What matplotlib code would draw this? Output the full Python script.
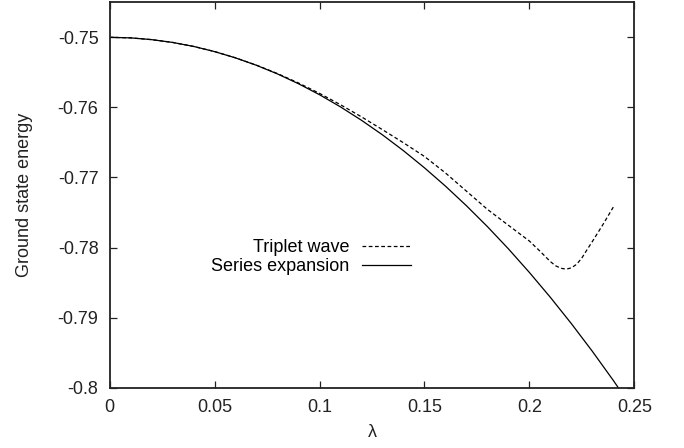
import numpy as np
import matplotlib
matplotlib.use("Agg")
import matplotlib.pyplot as plt

plt.rcParams['font.family'] = ['Liberation Sans', 'DejaVu Sans']
plt.rcParams['axes.unicode_minus'] = False

# values
lam_series = [0.00, 0.01, 0.02, 0.03, 0.04, 0.05, 0.06, 0.07, 0.08, 0.09,
              0.10, 0.11, 0.12, 0.13, 0.14, 0.15, 0.16, 0.17, 0.18, 0.19,
              0.20, 0.21, 0.22, 0.23, 0.24, 0.25]
e_series = [-0.75000, -0.75008, -0.75033, -0.75073, -0.75130, -0.75204,
            -0.75294, -0.75400, -0.75523, -0.75663, -0.75819, -0.75993,
            -0.76184, -0.76392, -0.76618, -0.76862, -0.77123, -0.77403,
            -0.77701, -0.78018, -0.78355, -0.78710, -0.79085, -0.79480,
            -0.79896, -0.80332]

lam_triplet = [0.00, 0.01, 0.02, 0.03, 0.04, 0.05, 0.06, 0.07, 0.08, 0.09,
               0.10, 0.11, 0.12, 0.13, 0.14, 0.15, 0.16, 0.17, 0.18, 0.19,
               0.20, 0.205, 0.21, 0.2125, 0.215, 0.2175, 0.22, 0.2225, 0.225,
               0.2275, 0.23, 0.235, 0.24]
e_triplet = [-0.75000, -0.75008, -0.75033, -0.75073, -0.75130, -0.75203,
             -0.75293, -0.75398, -0.75518, -0.75652, -0.75800, -0.75962,
             -0.76135, -0.76318, -0.76505, -0.76700, -0.76935, -0.77195,
             -0.77455, -0.77682, -0.77907, -0.78050, -0.78200, -0.78260,
             -0.78295, -0.78309, -0.78290, -0.78240, -0.78150, -0.78030,
             -0.77915, -0.77675, -0.77423]

x_ticks = [0, 0.05, 0.1, 0.15, 0.2, 0.25]
x_ticklabels = ['0', '0.05', '0.1', '0.15', '0.2', '0.25']
y_ticks = [-0.75, -0.76, -0.77, -0.78, -0.79, -0.8]
y_ticklabels = ['-0.75', '-0.76', '-0.77', '-0.78', '-0.79', '-0.8']

fig = plt.figure(figsize=(6.84, 4.48), dpi=100)
ax = fig.add_axes([0.1604, 0.1346, 0.7669, 0.8603])

ax.plot(lam_triplet, e_triplet, color='black', lw=0.9, ls=(0, (3, 2)),
        label='Triplet wave')
ax.plot(lam_series, e_series, color='black', lw=0.9, label='Series expansion')

ax.set_xlim(0, 0.25)
ax.set_ylim(-0.8, -0.745)
ax.set_xticks(x_ticks)
ax.set_xticklabels(x_ticklabels)
ax.set_yticks(y_ticks)
ax.set_yticklabels(y_ticklabels)
ax.tick_params(direction='in', length=5, width=0.9, top=True, right=True,
               labelsize=13, pad=8, colors='#222222')
for s in ax.spines.values():
    s.set_linewidth(1.3)
    s.set_color('#222222')

ax.set_xlabel('λ', fontsize=13, labelpad=6, color='#222222')
ax.set_ylabel('Ground state energy', fontsize=13, labelpad=18, color='#222222')

leg = ax.legend(loc='center right', bbox_to_anchor=(0.574, 0.339),
                frameon=False, markerfirst=False, fontsize=13,
                handlelength=2.7, handletextpad=0.7, labelspacing=0.1,
                borderpad=0, borderaxespad=0)

fig.savefig('out.png', dpi=100)
